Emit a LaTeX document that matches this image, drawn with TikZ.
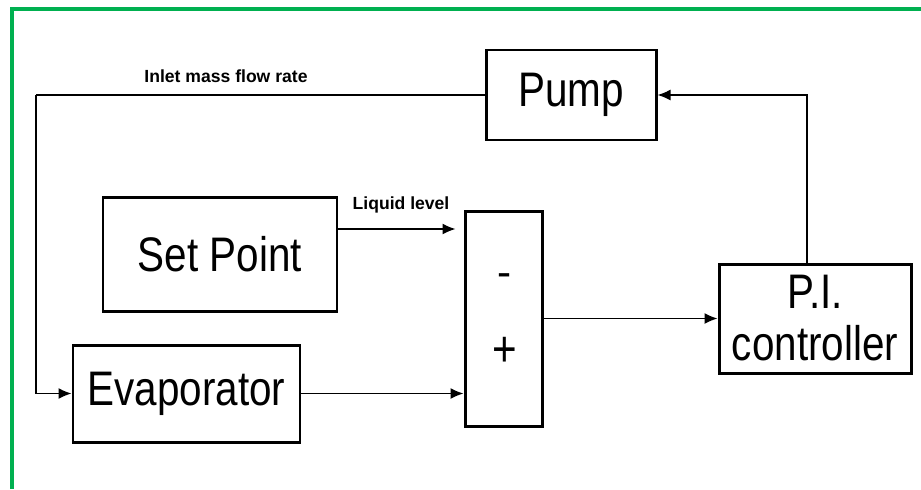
\documentclass[tikz,border=0pt]{standalone}
\usepackage{fontspec}
\usepackage{graphicx}
\setmainfont{Liberation Sans}
\usetikzlibrary{arrows.meta, positioning, calc}

\definecolor{framegreen}{RGB}{0,176,80}
\newcommand{\tallText}[1]{\scalebox{1}[1.2]{#1}}

\begin{document}
\begin{tikzpicture}[
    block/.style={rectangle, draw=black, line width=1.7pt, align=center, font=\fontsize{23}{29.6}\selectfont, inner sep=0pt},
    arrow/.style={-{Latex[length=2.6mm, width=2.2mm]}, line width=0.8pt},
    line/.style={line width=0.8pt},
    lbl/.style={font=\bfseries\fontsize{10}{12}\selectfont},
    sign/.style={font=\fontsize{24}{26}\selectfont},
]

% Frame
\useasboundingbox (0,0) rectangle (18.42,-9.78);
\draw[framegreen, line width=2.4pt] (0.24,-9.78) -- (0.24,-0.18) -- (18.42,-0.18);

% Blocks
\node[block, minimum width=3.4cm, minimum height=1.8cm] (pump) at (11.42, -1.90) {\tallText{Pump}};
\node[block, minimum width=4.68cm, minimum height=2.28cm] (setpoint) at (4.40, -5.08) {\tallText{Set Point}};
\node[block, minimum width=4.54cm, minimum height=1.94cm] (evap) at (3.73, -7.87) {\tallText{Evaporator}};
\node[block, minimum width=1.54cm, minimum height=4.30cm] (sum) at (10.07, -6.37) {};
\node[block, minimum width=3.84cm, minimum height=2.18cm] (pi) at (16.30, -6.37) {\tallText{P.I.}\\\tallText{controller}};

% Signs of the summing block
\node[sign] (minus) at (10.10, -5.60) {-};
\node[sign] (plus) at (10.10, -7.04) {\tallText{+}};

% Labels
\node[lbl] (inletlbl) at (4.52, -1.52) {Inlet mass flow rate};
\node[lbl] (levellbl) at (8.02, -4.10) {Liquid level};

% Connections
\coordinate (inlet) at (0.72, -1.90);
\draw[line] (pump.west) -- (inlet);
\draw[arrow] (inlet) |- (evap.west);
\draw[arrow, shorten >=0.16cm] ([yshift=0.50cm]setpoint.east) -- ([yshift=0.50cm]setpoint.east -| sum.west);
\draw[arrow] (evap.east) -- (evap.east -| sum.west);
\draw[arrow] (sum) -- (pi);
\draw[arrow] ([xshift=-0.16cm]pi.north) |- (pump.east);

\end{tikzpicture}
\end{document}
